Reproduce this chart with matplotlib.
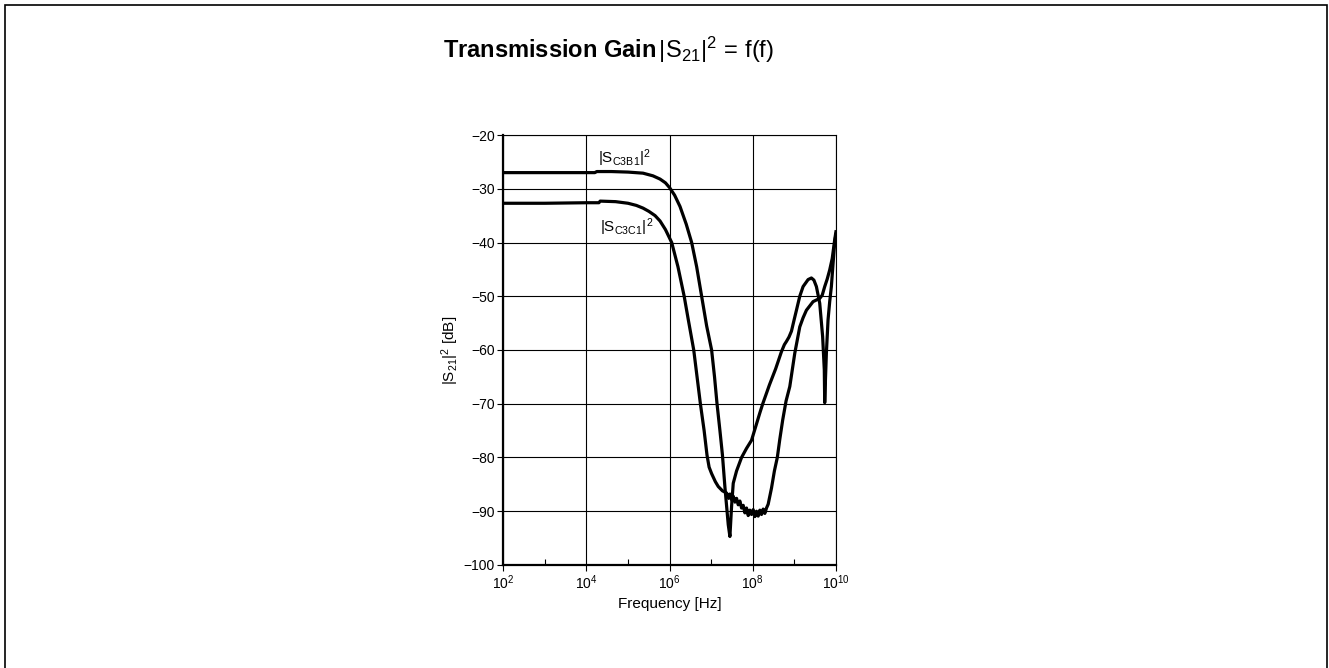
import matplotlib
matplotlib.use('Agg')
import matplotlib.pyplot as plt
import matplotlib.patches as mpatches
import matplotlib.ticker as mticker
import numpy as np

# log10 of frequency [Hz] and gain [dB]
logf_c3b1 = [2.0, 3.0, 4.0, 4.2, 4.25, 4.6, 5.0, 5.36, 5.6, 5.77, 5.9, 6.0, 6.12, 6.25,
             6.4, 6.53, 6.65, 6.77, 6.89, 7.01, 7.08, 7.14, 7.21, 7.27, 7.33, 7.41, 7.45,
             7.49, 7.53, 7.61, 7.73, 7.85, 7.97, 8.08, 8.17, 8.24, 8.4, 8.55, 8.69, 8.76,
             8.81, 8.87, 8.93, 9.0, 9.05, 9.13, 9.21, 9.33, 9.41, 9.47, 9.53, 9.61, 9.68,
             9.72, 9.73, 9.75, 9.77, 9.81, 9.85, 9.89, 9.93, 9.97, 10.0]
db_c3b1 = [-27.0, -27.0, -27.0, -27.0, -26.8, -26.8, -26.9, -27.1, -27.6, -28.2, -28.9,
           -29.8, -31.2, -33.3, -36.6, -40.0, -44.5, -50.0, -55.5, -60.0, -65.0, -70.0,
           -75.0, -79.5, -85.5, -92.5, -94.7, -89.1, -84.8, -82.5, -80.0, -78.3, -76.8,
           -74.0, -71.7, -70.0, -66.5, -63.5, -60.3, -59.0, -58.4, -57.6, -56.5, -54.2,
           -52.6, -50.0, -48.2, -46.9, -46.6, -47.0, -48.2, -51.3, -57.5, -63.7, -69.8,
           -65.0, -60.6, -54.4, -51.0, -48.2, -44.0, -40.0, -38.5]

logf_c3c1 = [2.0, 3.0, 4.0, 4.3, 4.33, 4.7, 5.0, 5.2, 5.36, 5.5, 5.65, 5.77, 5.9, 6.05,
             6.2, 6.35, 6.45, 6.58, 6.66, 6.74, 6.83, 6.9, 6.95, 7.01, 7.1, 7.17, 7.27,
             7.37, 7.42, 7.45, 7.5, 7.53, 7.57, 7.61, 7.65, 7.69, 7.73, 7.77, 7.81, 7.85,
             7.89, 7.93, 7.97, 8.01, 8.05, 8.09, 8.13, 8.17, 8.21, 8.25, 8.29, 8.33, 8.37,
             8.41, 8.45, 8.52, 8.59, 8.65, 8.72, 8.8, 8.89, 9.01, 9.13, 9.21, 9.29, 9.45,
             9.61, 9.67, 9.73, 9.79, 9.85, 9.91, 9.97, 10.0]
db_c3c1 = [-32.7, -32.7, -32.6, -32.6, -32.3, -32.4, -32.7, -33.1, -33.6, -34.2, -35.0,
           -36.0, -37.6, -40.0, -44.5, -50.0, -54.4, -60.0, -65.0, -70.0, -75.0, -79.6,
           -81.8, -83.0, -84.5, -85.4, -86.2, -86.6, -87.6, -86.8, -88.0, -87.2, -88.3,
           -87.6, -88.8, -88.1, -89.4, -88.9, -90.3, -89.4, -90.8, -89.8, -90.6, -89.7,
           -91.0, -90.0, -90.9, -89.8, -90.6, -89.6, -90.4, -89.4, -88.7, -87.2, -85.7,
           -82.5, -80.0, -76.6, -73.0, -69.5, -66.8, -60.6, -55.7, -54.0, -52.6, -51.0,
           -50.4, -49.8, -48.2, -46.8, -45.1, -43.0, -39.5, -38.0]

x_major = [1e2, 1e4, 1e6, 1e8, 1e10]
x_labels = [r'$10^{2}$', r'$10^{4}$', r'$10^{6}$', r'$10^{8}$', r'$10^{10}$']
x_minor = [1e3, 1e5, 1e7, 1e9]
y_ticks = np.arange(-100, -10, 10)

plt.rcParams['font.family'] = ['Liberation Sans', 'DejaVu Sans']
plt.rcParams['mathtext.fontset'] = 'custom'
plt.rcParams['mathtext.rm'] = 'Liberation Sans'
plt.rcParams['mathtext.it'] = 'Liberation Sans:italic'
plt.rcParams['mathtext.bf'] = 'Liberation Sans:bold'

fig = plt.figure(figsize=(13.29, 6.68), dpi=100)
ax = fig.add_axes([0.3787, 0.1542, 0.2503, 0.6437])

ax.plot(10 ** np.array(logf_c3b1), db_c3b1, color='black', lw=2.3, zorder=3,
        solid_joinstyle='round')
ax.plot(10 ** np.array(logf_c3c1), db_c3c1, color='black', lw=2.3, zorder=3,
        solid_joinstyle='round')

ax.set_xscale('log')
ax.set_xlim(1e2, 1e10)
ax.set_ylim(-100, -20)
ax.set_xticks(x_major)
ax.set_xticklabels(x_labels)
ax.xaxis.set_minor_locator(mticker.FixedLocator(x_minor))
ax.xaxis.set_minor_formatter(mticker.NullFormatter())
ax.set_yticks(y_ticks)
ax.grid(True, which='major', color='black', lw=0.8)
ax.tick_params(axis='both', which='major', direction='out', length=4, width=0.8,
               labelsize=10, pad=2)
ax.tick_params(axis='x', which='minor', direction='in', length=4, width=0.8)
for side in ['left', 'bottom']:
    ax.spines[side].set_linewidth(1.6)
for side in ['top', 'right']:
    ax.spines[side].set_linewidth(0.8)

ax.set_xlabel('Frequency [Hz]', fontsize=11, labelpad=4)
ax.set_ylabel(r'$|\mathrm{S}_{21}|^{2}$ [dB]', fontsize=11, labelpad=2)

ax.text(10 ** 4.28, -25.3, r'$|\mathrm{S}_{\mathrm{C3B1}}|^{2}$', fontsize=11,
        va='baseline', ha='left', zorder=4)
ax.text(10 ** 4.33, -38.0, r'$|\mathrm{S}_{\mathrm{C3C1}}|^{2}$', fontsize=11,
        va='baseline', ha='left', zorder=4)

fig.text(443 / 1329, 0.9127,
         r'$\mathbf{Transmission\ Gain}\,|\mathrm{S}_{21}|^{2}\,=\,\mathrm{f(f)}$',
         fontsize=17, ha='left', va='baseline')

# thin frame around the whole picture
frame = mpatches.Rectangle((5 / 1329, -0.02), 1322 / 1329, 1 - 5 / 668 + 0.02,
                           transform=fig.transFigure, fill=False, lw=1.2,
                           edgecolor='black')
fig.add_artist(frame)

fig.savefig('out.png', dpi=100)
